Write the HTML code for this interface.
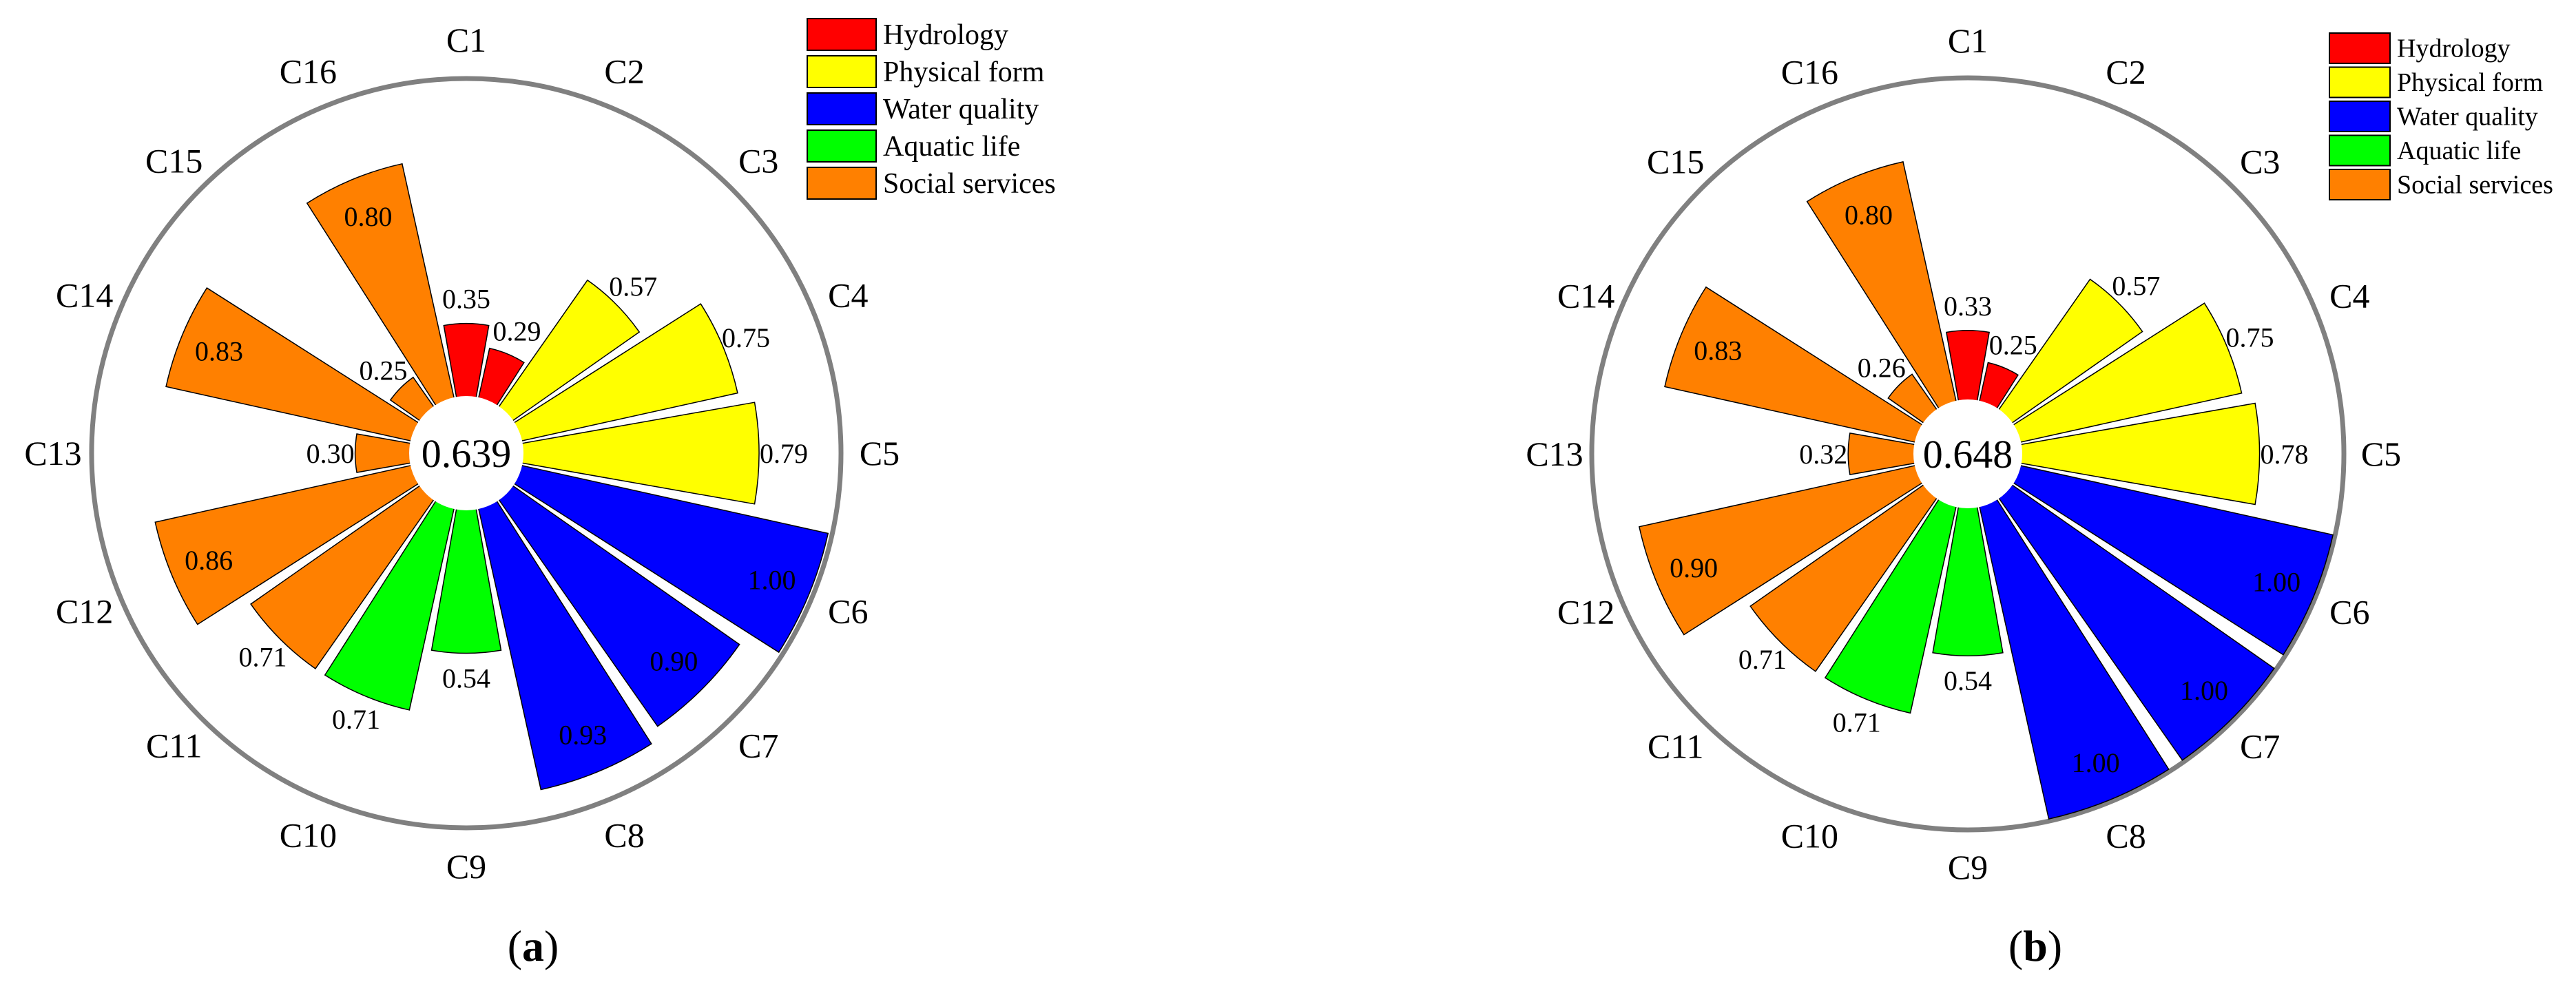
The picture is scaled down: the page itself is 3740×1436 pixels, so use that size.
<!DOCTYPE html>
<html><head><meta charset="utf-8"><style>
html,body{margin:0;padding:0;background:#fff;}
svg{display:block;font-family:"Liberation Serif","DejaVu Serif",serif;}
svg text{font-family:"Liberation Serif","DejaVu Serif",serif;}
</style></head><body>
<svg id="fig" width="3740" height="1436" viewBox="0 0 3740 1436" xmlns="http://www.w3.org/2000/svg" font-family="Liberation Serif, serif"></svg>
<script>
const categories = ["C1","C2","C3","C4","C5","C6","C7","C8","C9","C10","C11","C12","C13","C14","C15","C16"];
const groupOf = [0,0,1,1,1,2,2,2,3,3,4,4,4,4,4,4];
const groupNames = ["Hydrology","Physical form","Water quality","Aquatic life","Social services"];
const groupColors = ["#ff0000","#ffff00","#0000ff","#00ff00","#ff8000"];
const valuesA = [0.35,0.29,0.57,0.75,0.79,1.00,0.90,0.93,0.54,0.71,0.71,0.86,0.30,0.83,0.25,0.80];
const valuesB = [0.33,0.25,0.57,0.75,0.78,1.00,1.00,1.00,0.54,0.71,0.71,0.90,0.32,0.83,0.26,0.80];
const totalA = "0.639";
const totalB = "0.648";

const NS = "http://www.w3.org/2000/svg";
const svg = document.getElementById("fig");
const FF = "Liberation Serif, DejaVu Serif, serif";
function mk(tag, attrs, parent){
  const e = document.createElementNS(NS, tag);
  for (const k in attrs) e.setAttribute(k, attrs[k]);
  if (tag === "text") e.setAttribute("font-family", FF);
  (parent||svg).appendChild(e);
  return e;
}
function drawChart(cfg){
  const g = mk("g", {});
  
  
  const cx = cfg.cx, cy = cfg.cy, scale = cfg.scale;
  const pt = (r, deg) => { const a = deg*Math.PI/180; return [cx + r*Math.sin(a), cy - r*Math.cos(a)]; };
  const outer = mk("circle", {cx:cx, cy:cy, r:cfg.R, fill:"none", stroke:"#808080", "stroke-width":7}, g);
  
  
  const step = 360 / categories.length, half = 10;
  cfg.values.forEach((v, i) => {
    const c = i*step, r = v*scale;
    const p1 = pt(r, c-half), p2 = pt(r, c+half);
    const d = `M${cx},${cy} L${p1[0]},${p1[1]} A${r},${r} 0 0 1 ${p2[0]},${p2[1]} Z`;
    const bar = mk("path", {d:d, fill:groupColors[groupOf[i]], stroke:"#000", "stroke-width":1.5}, g);
    
    
    const inside = v >= 0.8;
    const lr = inside ? r - 58 : r + 36;
    const lp = pt(lr, c);
    const t = mk("text", {x:lp[0], y:lp[1] + cfg.vfs*0.35, "font-size":cfg.vfs, "text-anchor":"middle", fill:"#000"}, g);
    t.textContent = v.toFixed(2);
    
    
    const cp = pt(cfg.labelR, c);
    const ct = mk("text", {x:cp[0], y:cp[1] + 17, "font-size":50, "text-anchor":"middle", fill:"#000"}, g);
    ct.textContent = categories[i];
    
    
  });
  const inner = mk("circle", {cx:cx, cy:cy, r:cfg.innerR, fill:"#fff", stroke:"#fff", "stroke-width":2}, g);
  
  
  const tt = mk("text", {x:cx, y:cy + 20, "font-size":58, "text-anchor":"middle", fill:"#000"}, g);
  tt.textContent = cfg.total;
  
  
  const lg = mk("g", {}, g);
  
  
  groupNames.forEach((n, k) => {
    const y = cfg.legY + k*cfg.legStep;
    const box = mk("rect", {x:cfg.legX, y:y, width:cfg.legW, height:cfg.legH, fill:groupColors[k], stroke:"#000", "stroke-width":2}, lg);
    
    
    const lt = mk("text", {x:cfg.legX + cfg.legW + 10, y:y + cfg.legH/2 + cfg.legFs*0.33, "font-size":cfg.legFs, fill:"#000"}, lg);
    lt.textContent = n;
    
    
  });
  const cap = mk("text", {x:cfg.capX, y:1395, "font-size":64, "text-anchor":"middle", fill:"#000"}, g);
  cap.innerHTML = '(<tspan font-weight="bold">' + cfg.id + '</tspan>)';
  
  
}
drawChart({id:"a", cx:677, cy:658, R:544, scale:538, innerR:82, labelR:600, values:valuesA, total:totalA, vfs:40,
  legX:1172, legY:27, legW:100, legH:46, legStep:54, legFs:42, capX:774});
drawChart({id:"b", cx:2857, cy:659, R:546, scale:543, innerR:78, labelR:600, values:valuesB, total:totalB, vfs:40,
  legX:3382, legY:48, legW:88, legH:44, legStep:49.5, legFs:38, capX:2955});
</script>
</body></html>
